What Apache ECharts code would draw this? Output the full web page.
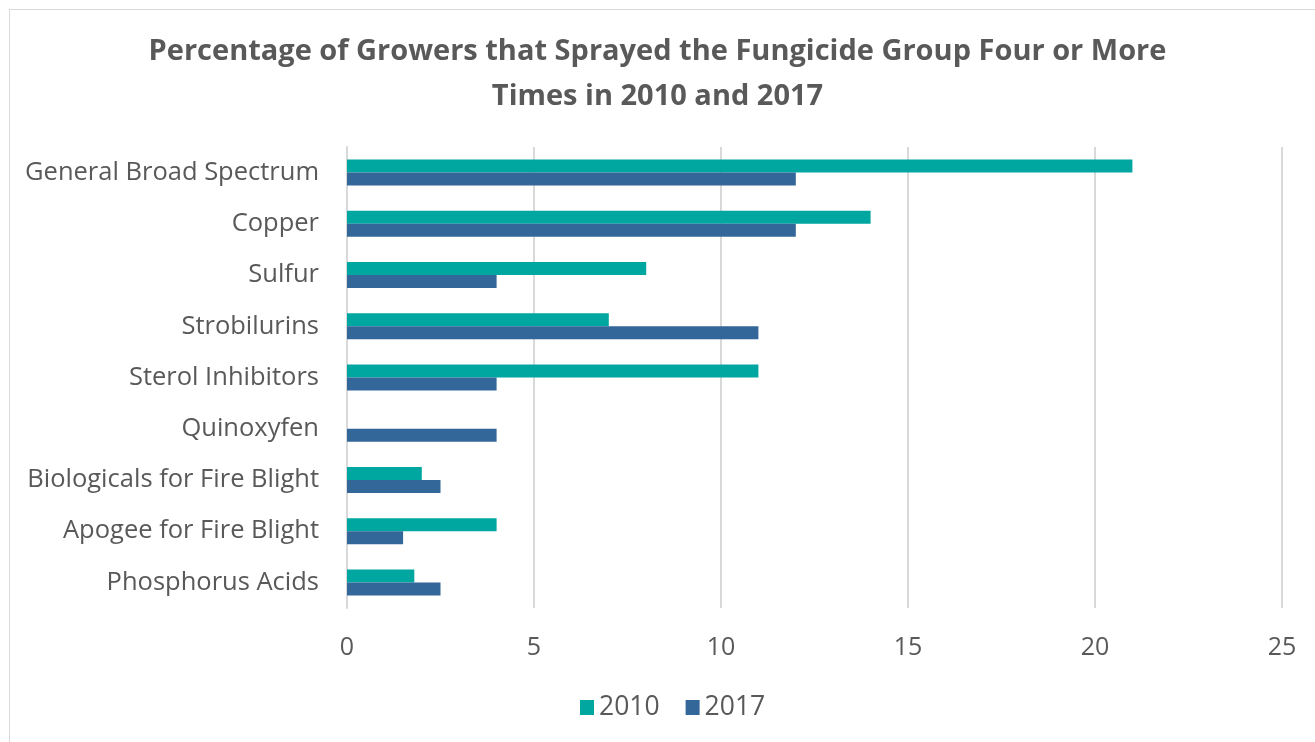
<!DOCTYPE html>
<html>
<head>
<meta charset="utf-8">
<script src="https://cdn.jsdelivr.net/npm/echarts@6/dist/echarts.min.js"></script>
<style>
  html, body { margin: 0; padding: 0; background: #fff; }
  #frame { position: absolute; left: 9px; top: 9px; width: 1320px; height: 750px; border: 1px solid #d9d9d9; box-sizing: border-box; }
  #chart { position: absolute; left: 0; top: 0; width: 1315px; height: 742px; }
</style>
</head>
<body>
<div id="frame"></div>
<div id="chart"></div>
<script>
// Fungicide groups, top to bottom
const categories = [
  'General Broad Spectrum', 'Copper', 'Sulfur', 'Strobilurins', 'Sterol Inhibitors',
  'Quinoxyfen', 'Biologicals for Fire Blight', 'Apogee for Fire Blight', 'Phosphorus Acids'
];
// Percent of growers spraying the group four or more times
const values2010 = [21, 14, 8, 7, 11, 0, 2, 4, 1.8];
const values2017 = [12, 12, 4, 11, 4, 4, 2.5, 1.5, 2.5];
const seriesNames = ['2010', '2017'];
const xTicks = [0, 5, 10, 15, 20, 25];

const textColor = '#595959';
const font = 'Open Sans';

const chart = echarts.init(document.getElementById('chart'), null, { renderer: 'canvas' });
chart.setOption({
  backgroundColor: 'transparent',
  animation: false,
  title: {
    text: 'Percentage of Growers that Sprayed the Fungicide Group Four or More\nTimes in 2010 and 2017',
    left: 'center',
    top: 24,
    textStyle: { color: textColor, fontFamily: font, fontWeight: 'bold', fontSize: 29, lineHeight: 45 }
  },
  legend: {
    data: seriesNames,
    bottom: 16,
    left: 575,
    itemWidth: 14,
    itemHeight: 15,
    itemGap: 26,
    icon: 'rect',
    textStyle: { color: textColor, fontFamily: font, fontSize: 26.5 }
  },
  grid: { left: 347, right: 33, top: 147, bottom: 134, containLabel: false },
  xAxis: {
    type: 'value',
    min: xTicks[0],
    max: xTicks[xTicks.length - 1],
    interval: 5,
    axisLine: { show: false },
    axisTick: { show: false },
    splitLine: { show: true, lineStyle: { color: '#d9d9d9', width: 2 } },
    axisLabel: { color: textColor, fontFamily: font, fontSize: 25, margin: 27 }
  },
  yAxis: {
    type: 'category',
    data: categories,
    inverse: true,
    axisLine: { show: true, lineStyle: { color: '#d9d9d9', width: 2 } },
    axisTick: { show: false },
    axisLabel: { color: textColor, fontFamily: font, fontSize: 25.5, margin: 28 }
  },
  series: [
    {
      name: seriesNames[0], type: 'bar', data: values2010,
      itemStyle: { color: '#00a6a0' },
      barWidth: 13, barGap: '0%'
    },
    {
      name: seriesNames[1], type: 'bar', data: values2017,
      itemStyle: { color: '#336699' },
      barWidth: 13, barGap: '0%'
    }
  ]
});
</script>
</body>
</html>
